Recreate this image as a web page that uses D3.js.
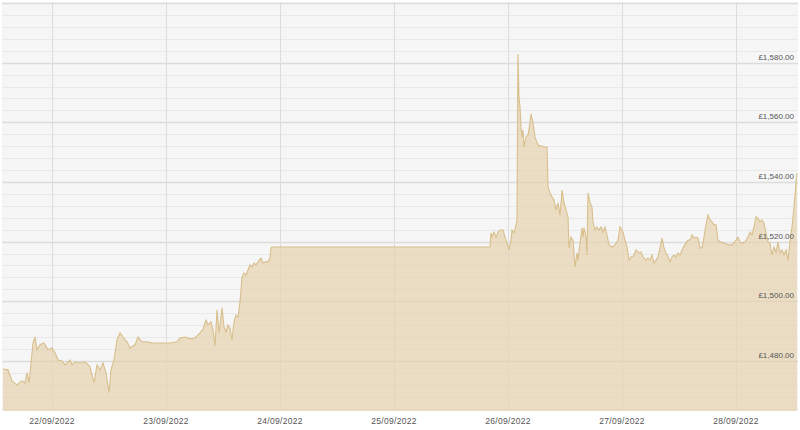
<!DOCTYPE html>
<html>
<head>
<meta charset="utf-8">
<script src="https://cdn.jsdelivr.net/npm/d3@7"></script>
<style>
  html, body { margin: 0; padding: 0; background: #fff; }
  svg { display: block; font-family: "Liberation Sans", Arial, sans-serif; }
</style>
</head>
<body>
<div id="chart"></div>
<script>
// gold price, GBP, hours counted from 21/09/2022 00:00
var startDate = new Date(2022, 8, 21);

var hours = [
    13.68, 14.74, 15.58, 16.63, 17.26, 17.68, 18.32, 18.74, 19.16, 19.58,
    20.00, 20.42, 20.84, 21.47, 22.32, 23.16, 24.00, 24.63, 25.26, 26.11,
    26.74, 27.79, 28.21, 28.84, 29.89, 30.95, 32.00, 32.84, 33.47, 34.11,
    34.74, 35.37, 36.00, 36.42, 37.05, 37.68, 38.32, 38.95, 39.79, 40.42,
    41.47, 42.11, 42.95, 44.00, 45.05, 46.74, 48.84, 50.32, 50.95, 52.00,
    53.05, 54.11, 55.16, 55.79, 56.42, 56.84, 57.47, 57.89, 58.32, 58.74,
    59.16, 59.79, 60.21, 60.63, 61.05, 61.47, 61.89, 62.32, 62.74, 63.16,
    63.58, 64.00, 64.42, 64.84, 65.26, 65.68, 66.11, 66.53, 66.95, 67.37,
    68.00, 68.42, 68.84, 69.47, 69.89, 70.10, 70.31, 116.20, 116.42, 116.63,
    117.05, 117.47, 117.89, 118.32, 118.95, 119.37, 119.79, 120.21, 120.63, 120.84,
    121.26, 121.47, 121.89, 122.10, 122.31, 122.53, 122.74, 122.95, 123.16, 123.37,
    123.79, 124.21, 124.63, 124.84, 125.26, 125.68, 126.11, 126.53, 126.95, 127.58,
    128.21, 128.42, 128.84, 129.26, 129.68, 130.11, 130.53, 130.95, 131.37, 131.79,
    132.21, 132.63, 132.84, 133.26, 133.68, 134.11, 134.53, 134.74, 135.16, 135.58,
    135.79, 136.00, 136.42, 136.63, 136.84, 137.26, 137.68, 137.89, 138.32, 138.74,
    139.16, 139.58, 140.00, 140.42, 140.84, 141.26, 141.89, 142.53, 143.16, 143.58,
    144.21, 144.63, 145.05, 145.47, 145.89, 146.32, 146.95, 147.58, 148.00, 148.42,
    149.05, 149.47, 149.89, 150.32, 150.74, 151.16, 151.58, 152.00, 152.42, 152.84,
    153.26, 153.68, 154.11, 154.53, 154.95, 155.37, 155.79, 156.21, 156.84, 157.47,
    157.89, 158.32, 158.74, 159.16, 159.58, 160.00, 160.42, 160.84, 161.26, 161.68,
    162.11, 162.53, 162.95, 163.37, 163.79, 164.21, 164.63, 165.47, 166.32, 167.16,
    168.00, 168.42, 168.84, 169.26, 169.89, 170.53, 170.95, 171.37, 171.79, 172.21,
    172.63, 173.05, 173.47, 173.89, 174.32, 174.74, 175.16, 175.58, 176.00, 176.42,
    176.84, 177.26, 177.68, 178.11, 178.53, 178.95, 179.37, 179.79, 180.21, 180.63,
    180.84
];

var prices = [
    1477.3, 1477.0, 1473.3, 1471.9, 1472.9, 1473.3, 1472.6, 1476.0, 1472.6, 1479.3,
    1486.0, 1488.0, 1483.7, 1485.4, 1486.0, 1483.7, 1484.3, 1482.7, 1480.3, 1480.0,
    1478.6, 1480.3, 1478.6, 1479.7, 1479.3, 1479.7, 1478.0, 1472.6, 1478.6, 1477.0,
    1479.3, 1476.0, 1469.3, 1477.0, 1480.3, 1487.0, 1489.4, 1488.0, 1486.4, 1484.3,
    1485.4, 1488.0, 1486.4, 1486.4, 1486.0, 1486.0, 1486.0, 1486.4, 1487.7, 1488.0,
    1487.4, 1487.7, 1489.4, 1490.7, 1493.7, 1492.1, 1493.1, 1490.4, 1485.0, 1497.1,
    1489.4, 1497.8, 1491.4, 1489.7, 1492.1, 1491.0, 1487.0, 1493.1, 1495.4, 1494.7,
    1499.8, 1508.1, 1509.5, 1508.8, 1510.5, 1512.2, 1511.5, 1512.8, 1512.2, 1513.2,
    1514.5, 1512.8, 1513.2, 1513.2, 1514.5, 1517.9, 1518.2, 1518.2, 1522.9, 1521.5,
    1523.2, 1521.5, 1523.2, 1523.9, 1523.9, 1521.5, 1519.5, 1517.2, 1520.5, 1523.9,
    1522.9, 1523.9, 1527.3, 1582.9, 1568.2, 1565.1, 1558.4, 1555.1, 1557.4, 1551.7,
    1555.1, 1555.7, 1559.8, 1562.8, 1559.8, 1555.1, 1553.1, 1552.1, 1552.1, 1551.7,
    1551.7, 1538.3, 1536.3, 1535.0, 1534.0, 1530.6, 1533.0, 1528.9, 1537.3, 1533.0,
    1530.6, 1528.3, 1517.9, 1521.5, 1520.5, 1511.5, 1516.2, 1513.8, 1519.5, 1524.6,
    1521.5, 1524.6, 1521.5, 1515.5, 1536.3, 1533.0, 1531.6, 1526.6, 1523.9, 1524.9,
    1523.9, 1524.9, 1523.2, 1524.9, 1522.2, 1518.9, 1518.2, 1518.9, 1520.5, 1524.9,
    1523.2, 1520.5, 1518.2, 1513.8, 1514.9, 1514.9, 1517.2, 1516.2, 1516.5, 1514.9,
    1513.8, 1514.5, 1513.8, 1515.5, 1512.8, 1513.8, 1514.9, 1517.9, 1521.2, 1517.9,
    1516.2, 1514.9, 1513.2, 1514.9, 1515.5, 1514.9, 1516.2, 1515.5, 1517.9, 1519.5,
    1520.5, 1520.5, 1522.2, 1521.2, 1521.5, 1521.2, 1517.9, 1517.9, 1521.5, 1525.6,
    1528.9, 1527.3, 1526.6, 1525.6, 1525.6, 1520.5, 1519.9, 1519.5, 1518.9, 1518.9,
    1520.5, 1521.5, 1519.9, 1519.5, 1519.9, 1521.5, 1523.2, 1522.2, 1524.9, 1528.3,
    1527.9, 1526.6, 1527.3, 1526.2, 1522.9, 1519.9, 1519.5, 1515.5, 1518.2, 1516.5,
    1519.9, 1516.2, 1517.2, 1515.5, 1517.2, 1513.8, 1519.9, 1524.9, 1531.6, 1539.7,
    1543.0
];

// axis labels
var dayTicks = ["2022-09-22", "2022-09-23", "2022-09-24", "2022-09-25", "2022-09-26", "2022-09-27", "2022-09-28"];
var priceTicks = [1480, 1500, 1520, 1540, 1560, 1580];
var priceMin = 1463.2, priceMax = 1600, minorStep = 4;

var width = 800, height = 430;
var plot = {left: 3, right: 797, top: 3, bottom: 411};

var data = hours.map(function(h, i) {
    return {date: new Date(startDate.getTime() + h * 3600 * 1000), price: prices[i]};
});

var x = d3.scaleTime()
    .domain(d3.extent(data, function(d) { return d.date; }))
    .range([plot.left, plot.right]);

var y = d3.scaleLinear()
    .domain([priceMin, priceMax])
    .range([plot.bottom, plot.top]);

var svg = d3.select("#chart").append("svg")
    .attr("width", width)
    .attr("height", height);

// plot background
svg.append("rect")
    .attr("x", 2).attr("y", 2)
    .attr("width", 796).attr("height", plot.bottom - 2)
    .attr("fill", "#f6f6f6");

// horizontal grid, minor every 4, major every 20
var minor = d3.range(1464, priceMax + 0.1, minorStep);
svg.append("g").selectAll("line")
    .data(minor)
    .enter().append("line")
    .attr("x1", 2).attr("x2", 798)
    .attr("y1", function(d) { return Math.round(y(d)) + 0.5; })
    .attr("y2", function(d) { return Math.round(y(d)) + 0.5; })
    .attr("stroke", function(d) { return d % 20 === 0 ? "#dcdcdc" : "#e9e9e9"; })
    .attr("stroke-width", function(d) { return d % 20 === 0 ? 1.3 : 1; });

var parseDay = d3.timeParse("%Y-%m-%d");
var days = dayTicks.map(parseDay);

svg.append("g").selectAll("line")
    .data(days)
    .enter().append("line")
    .attr("x1", function(d) { return Math.round(x(d)) + 0.5; })
    .attr("x2", function(d) { return Math.round(x(d)) + 0.5; })
    .attr("y1", 2).attr("y2", plot.bottom)
    .attr("stroke", "#dddddd");

// price area
var area = d3.area()
    .x(function(d) { return x(d.date); })
    .y0(plot.bottom)
    .y1(function(d) { return y(d.price); });

var line = d3.line()
    .x(function(d) { return x(d.date); })
    .y(function(d) { return y(d.price); });

svg.append("path")
    .datum(data)
    .attr("d", area)
    .attr("fill", "#e6d3b0")
    .attr("fill-opacity", 0.72);

svg.append("path")
    .datum(data)
    .attr("d", line)
    .attr("fill", "none")
    .attr("stroke", "#d8bf8c")
    .attr("stroke-width", 1.1);

// labels
var fmtPrice = function(v) { return "£" + d3.format(",.2f")(v); };
var fmtDay = d3.timeFormat("%d/%m/%Y");

svg.append("g").selectAll("text")
    .data(priceTicks)
    .enter().append("text")
    .attr("x", 794)
    .attr("y", function(d) { return y(d) - 3; })
    .attr("text-anchor", "end")
    .attr("font-size", "8px")
    .attr("fill", "#555")
    .text(fmtPrice);

svg.append("g").selectAll("text")
    .data(days)
    .enter().append("text")
    .attr("x", function(d) { return x(d); })
    .attr("y", 424)
    .attr("text-anchor", "middle")
    .attr("font-size", "8.5px")
    .attr("letter-spacing", "0.3px")
    .attr("fill", "#555")
    .text(fmtDay);
</script>
</body>
</html>
